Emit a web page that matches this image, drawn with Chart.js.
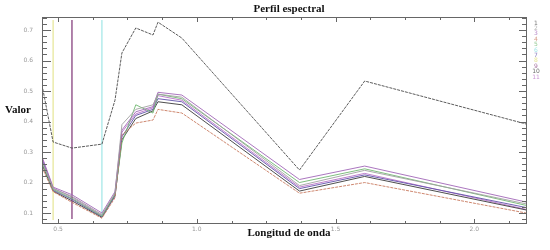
<!DOCTYPE html>
<html>
<head>
<meta charset="utf-8">
<title>Perfil espectral</title>
<script src="https://cdn.jsdelivr.net/npm/chart.js@4.4.1/dist/chart.umd.min.js"></script>
<style>
    body { margin: 0; background: #fff; }
    #wrap { width: 550px; height: 250px; position: relative; }
</style>
</head>
<body>
<div id="wrap"><canvas id="perfil"></canvas></div>
<script>
// longitudes de onda (um) de cada banda
const longitud = [0.442, 0.482, 0.55, 0.658, 0.705, 0.73, 0.78, 0.842, 0.86, 0.946, 1.37, 1.605, 2.187];

// valores de cada perfil
const perfil1  = [0.52, 0.333, 0.313, 0.326, 0.47, 0.625, 0.707, 0.684, 0.726, 0.674, 0.241, 0.533, 0.392];
const perfil2  = [0.27, 0.18, 0.155, 0.095, 0.165, 0.39, 0.44, 0.455, 0.49, 0.48, 0.19, 0.24, 0.13];
const perfil3  = [0.285, 0.185, 0.16, 0.1, 0.17, 0.372, 0.432, 0.449, 0.496, 0.487, 0.21, 0.254, 0.136];
const perfil4  = [0.25, 0.17, 0.135, 0.083, 0.15, 0.356, 0.395, 0.405, 0.44, 0.428, 0.165, 0.2, 0.10];
const perfil5  = [0.265, 0.178, 0.148, 0.09, 0.16, 0.33, 0.455, 0.428, 0.49, 0.475, 0.2, 0.245, 0.125];
const perfil7  = [0.275, 0.175, 0.145, 0.088, 0.155, 0.35, 0.42, 0.44, 0.475, 0.465, 0.18, 0.225, 0.118];
const perfil10 = [0.26, 0.172, 0.14, 0.086, 0.158, 0.34, 0.41, 0.435, 0.465, 0.455, 0.172, 0.22, 0.11];
const perfil11 = [0.28, 0.182, 0.152, 0.092, 0.162, 0.365, 0.425, 0.445, 0.485, 0.47, 0.185, 0.23, 0.112];

// perfiles que salen como lineas verticales [longitud, valor min, valor max]
const perfil6 = [0.658, 0.09, 0.733];
const perfil8 = [0.482, 0.077, 0.733];
const perfil9 = [0.55, 0.08, 0.733];

// etiquetas de los ejes
const ticksX = [0.5, 1.0, 1.5, 2.0];
const ticksY = [0.1, 0.2, 0.3, 0.4, 0.5, 0.6, 0.7];

function puntos(valores) {
    return valores.map(function(v, i) { return { x: longitud[i], y: v }; });
}
function vertical(p) {
    return [{ x: p[0], y: p[1] }, { x: p[0], y: p[2] }];
}
function serie(label, data, color, extra) {
    return Object.assign({
        label: label,
        data: data,
        borderColor: color,
        backgroundColor: color,
        borderWidth: 0.9,
        pointRadius: 0,
        tension: 0,
        fill: false
    }, extra || {});
}

const datasets = [
    serie('1', puntos(perfil1), '#4a4a4a', { borderDash: [3, 1] }),
    serie('2', puntos(perfil2), '#a0a0a0'),
    serie('3', puntos(perfil3), '#a266b8'),
    serie('4', puntos(perfil4), '#c87a60', { borderDash: [3, 1] }),
    serie('5', puntos(perfil5), '#70b870'),
    serie('6', vertical(perfil6), '#80dede'),
    serie('7', puntos(perfil7), '#6050a8'),
    serie('8', vertical(perfil8), '#dede70'),
    serie('9', vertical(perfil9), '#86407e', { borderWidth: 1.3 }),
    serie('10', puntos(perfil10), '#3a3a3a'),
    serie('11', puntos(perfil11), '#b870c8')
];

// marco con marcas hacia dentro, titulos y leyenda (estilo ENVI)
const marcoPlugin = {
    id: 'marco',
    afterDraw: function(chart) {
        const ctx = chart.ctx;
        const a = chart.chartArea;
        const x = chart.scales.x;
        const y = chart.scales.y;
        ctx.save();
        ctx.strokeStyle = '#666';
        ctx.lineWidth = 1;
        ctx.strokeRect(a.left + 0.5, a.top + 0.5, a.right - a.left - 1, a.bottom - a.top - 1);

        ctx.beginPath();
        // marcas eje y cada 0.02
        for (var i = 4; i <= 37; i++) {
            var py = Math.round(y.getPixelForValue(i * 0.02)) + 0.5;
            var mayor = i % 5 == 0;
            ctx.moveTo(a.left, py); ctx.lineTo(a.left + (mayor ? 9 : 5), py);
            ctx.moveTo(a.right, py); ctx.lineTo(a.right - (mayor ? 8 : 5), py);
        }
        // marcas eje x cada 0.125
        for (var j = 4; j <= 17; j++) {
            var px = Math.round(x.getPixelForValue(j * 0.125)) + 0.5;
            var grande = j % 4 == 0;
            ctx.moveTo(px, a.bottom); ctx.lineTo(px, a.bottom - (grande ? 5 : 3));
            ctx.moveTo(px, a.top); ctx.lineTo(px, a.top + (grande ? 5 : 3));
        }
        ctx.stroke();

        // titulos
        ctx.fillStyle = '#111';
        ctx.font = 'bold 11px "Liberation Serif"';
        ctx.textAlign = 'center';
        ctx.textBaseline = 'alphabetic';
        ctx.fillText('Perfil espectral', 289, 12);
        ctx.fillText('Longitud de onda', 289, 236);
        ctx.textAlign = 'left';
        ctx.fillText('Valor', 5, 113);

        // leyenda con numeros de color
        ctx.font = '6px "DejaVu Sans"';
        ctx.textAlign = 'center';
        ctx.textBaseline = 'middle';
        chart.data.datasets.forEach(function(ds, k) {
            ctx.globalAlpha = 0.75;
            ctx.fillStyle = ds.borderColor;
            ctx.fillText(ds.label, 536, 23 + k * 5.4);
        });
        ctx.restore();
    }
};

const config = {
    type: 'line',
    data: { datasets: datasets },
    options: {
        responsive: true,
        maintainAspectRatio: false,
        animation: false,
        layout: { padding: { top: 17, right: 23, left: 0, bottom: 0 } },
        plugins: {
            legend: { display: false },
            title: { display: false },
            tooltip: { enabled: false }
        },
        scales: {
            x: {
                type: 'linear',
                min: 0.442,
                max: 2.19,
                grid: { display: false, drawTicks: false },
                border: { display: false },
                afterBuildTicks: function(scale) {
                    scale.ticks = ticksX.map(function(v) { return { value: v }; });
                },
                afterFit: function(scale) { scale.height = 26; },
                ticks: {
                    padding: 2,
                    color: '#999',
                    font: { family: 'DejaVu Sans', size: 6 },
                    callback: function(v) { return v.toFixed(1); }
                }
            },
            y: {
                type: 'linear',
                min: 0.064,
                max: 0.743,
                grid: { display: false, drawTicks: false },
                border: { display: false },
                afterBuildTicks: function(scale) {
                    scale.ticks = ticksY.map(function(v) { return { value: v }; });
                },
                afterFit: function(scale) { scale.width = 42; },
                ticks: {
                    padding: 9,
                    color: '#999',
                    font: { family: 'DejaVu Sans', size: 6 },
                    callback: function(v) { return v.toFixed(1); }
                }
            }
        }
    },
    plugins: [marcoPlugin]
};

const grafico = new Chart(document.getElementById('perfil'), config);
</script>
</body>
</html>
